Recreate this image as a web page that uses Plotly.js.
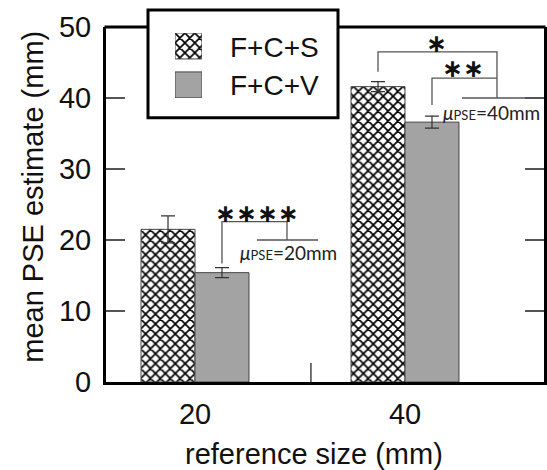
<!DOCTYPE html>
<html>
<head>
<meta charset="utf-8">
<script src="https://cdn.plot.ly/plotly-3.0.1.min.js"></script>
<style>html,body{margin:0;padding:0;background:#fff;}#chart{width:547px;height:470px;}</style>
</head>
<body>
<div id="chart"></div>
<script>
// ---- data ----
var categories = [0, 1];                 // positions of reference sizes
var categoryLabels = ['20', '40'];       // reference size (mm)
var seriesNames = ['F+C+S', 'F+C+V'];
var fcsMean = [21.5, 41.6];
var fcsErr  = [1.9, 0.7];
var fcvMean = [15.4, 36.6];
var fcvErr  = [0.7, 0.85];
var yTicks = [0, 10, 20, 30, 40, 50];
var sigLabels = ['∗∗∗∗', '∗', '∗∗'];
var pseLabels = ['20mm', '40mm'];
var pseValues = [20, 40];

// ---- geometry helpers (pixels -> paper) ----
var L = 106, R = 3, T = 27, B = 470 - 382.5;
var PW = 547 - L - R, PH = 470 - T - B;
function px(x) { return (x - L) / PW; }
function py(y) { return (470 - B - y) / PH; }

var gray = '#a3a3a3';
var lineCol = '#555';
var hatch = { shape: 'x', size: 7, solidity: 0.42, fgcolor: '#000', bgcolor: 'white' };

var traces = [
  {
    type: 'bar', name: seriesNames[0], x: categories, y: fcsMean,
    marker: { color: 'white', line: { color: '#444', width: 1 }, pattern: hatch },
    error_y: { type: 'data', array: fcsErr, visible: true, color: '#333', thickness: 1.2, width: 7 },
    showlegend: false, hoverinfo: 'skip'
  },
  {
    type: 'bar', name: seriesNames[1], x: categories, y: fcvMean,
    marker: { color: gray, line: { color: '#444', width: 1 } },
    error_y: { type: 'data', array: fcvErr, visible: true, color: '#333', thickness: 1.2, width: 7 },
    showlegend: false, hoverinfo: 'skip'
  },
  // legend swatches (drawn on a small overlay axis inside the legend box)
  {
    type: 'bar', orientation: 'h', x: [1], y: [1], base: 0, width: 0.667, offset: -0.3335,
    xaxis: 'x2', yaxis: 'y2',
    marker: { color: 'white', line: { color: '#444', width: 1 }, pattern: hatch },
    showlegend: false, hoverinfo: 'skip'
  },
  {
    type: 'bar', orientation: 'h', x: [1], y: [0], base: 0, width: 0.667, offset: -0.3335,
    xaxis: 'x2', yaxis: 'y2',
    marker: { color: gray, line: { color: '#444', width: 1 } },
    showlegend: false, hoverinfo: 'skip'
  }
];

var halfBar = 0.257 / 2;
var shapes = [
  // legend frame
  { type: 'rect', xref: 'paper', yref: 'paper', x0: px(148), x1: px(338), y0: py(118), y1: py(10),
    fillcolor: 'white', line: { color: '#000', width: 3 }, layer: 'below' },
  // top border (interrupted by the legend)
  { type: 'line', xref: 'paper', yref: 'paper', x0: px(104.5), x1: px(148), y0: 1, y1: 1,
    line: { color: '#000', width: 3 }, layer: 'above' },
  { type: 'line', xref: 'paper', yref: 'paper', x0: px(338), x1: px(545.5), y0: 1, y1: 1,
    line: { color: '#000', width: 3 }, layer: 'above' },
  // divider tick on x axis
  { type: 'line', xref: 'x', yref: 'y', x0: 0.552, x1: 0.552, y0: 0, y1: 2.67,
    line: { color: '#444', width: 1.5 }, layer: 'above' },
  // 20 mm bracket
  { type: 'path', xref: 'x', yref: 'y',
    path: 'M' + halfBar + ',16.7 L' + halfBar + ',22.6 L0.438,22.6 L0.438,' + pseValues[0],
    line: { color: lineCol, width: 1.3 } },
  { type: 'line', xref: 'x', yref: 'y', x0: 0.295, x1: 0.586, y0: pseValues[0], y1: pseValues[0],
    line: { color: lineCol, width: 1.3 } },
  // 40 mm brackets
  { type: 'path', xref: 'x', yref: 'y',
    path: 'M' + (1 - halfBar) + ',43.7 L' + (1 - halfBar) + ',46.5 L1.438,46.5 L1.438,' + pseValues[1],
    line: { color: lineCol, width: 1.3 } },
  { type: 'path', xref: 'x', yref: 'y',
    path: 'M' + (1 + halfBar) + ',39.0 L' + (1 + halfBar) + ',42.8 L1.438,42.8',
    line: { color: lineCol, width: 1.3 } },
  { type: 'line', xref: 'x', yref: 'y', x0: 1.271, x1: 1.662, y0: pseValues[1], y1: pseValues[1],
    line: { color: lineCol, width: 1.3 } }
];

var txtFont = { family: 'Liberation Sans, Arial, sans-serif', size: 28, color: '#111' };
var tickFont = { family: 'Liberation Sans, Arial, sans-serif', size: 29, color: '#111' };
var titleFont = { family: 'Liberation Sans, Arial, sans-serif', size: 29, color: '#111' };
var starFont = { family: 'DejaVu Sans', size: 25, color: '#111', weight: 'bold' };
var muFont = { family: 'Lato, Open Sans, sans-serif', size: 19, color: '#222' };
function muText(v) { return '<i>μ</i><span style="font-size:13px">PSE</span>=' + v; }

var annotations = [
  { xref: 'paper', yref: 'paper', x: px(228), y: py(47.5), xanchor: 'left', yanchor: 'middle',
    text: seriesNames[0], showarrow: false, font: txtFont },
  { xref: 'paper', yref: 'paper', x: px(228), y: py(86), xanchor: 'left', yanchor: 'middle',
    text: seriesNames[1], showarrow: false, font: txtFont },
  { xref: 'x', yref: 'y', x: 0.295, y: 23.8, text: sigLabels[0], showarrow: false, font: starFont, yanchor: 'middle' },
  { xref: 'x', yref: 'y', x: 1.152, y: 47.7, text: sigLabels[1], showarrow: false, font: starFont, yanchor: 'middle' },
  { xref: 'x', yref: 'y', x: 1.276, y: 44.2, text: sigLabels[2], showarrow: false, font: starFont, yanchor: 'middle' },
  { xref: 'x', yref: 'y', x: 0.445, y: 18.2, text: muText(pseLabels[0]), showarrow: false, font: muFont, yanchor: 'middle' },
  { xref: 'x', yref: 'y', x: 1.41, y: 38.0, text: muText(pseLabels[1]), showarrow: false, font: muFont, yanchor: 'middle' },
  // axis titles
  { xref: 'paper', yref: 'paper', x: px(33), y: py(197), textangle: -90, text: 'mean PSE estimate (mm)',
    showarrow: false, font: titleFont, xanchor: 'center', yanchor: 'middle' },
  { xref: 'paper', yref: 'paper', x: px(314), y: py(455), text: 'reference size (mm)',
    showarrow: false, font: titleFont, xanchor: 'center', yanchor: 'middle' }
];

var layout = {
  width: 547, height: 470,
  margin: { l: L, r: R, t: T, b: B, pad: 0 },
  paper_bgcolor: 'white', plot_bgcolor: 'white',
  barmode: 'group', bargap: 0.486, bargroupgap: 0,
  showlegend: false,
  xaxis: {
    range: [-0.4238, 1.6619], tickvals: categories, ticktext: categoryLabels,
    ticks: '', showgrid: false, zeroline: false,
    showline: true, linewidth: 3, linecolor: '#000', mirror: false,
    tickfont: tickFont, ticklabelstandoff: 4, fixedrange: true
  },
  yaxis: {
    range: [0, 50], tickvals: yTicks, ticks: 'inside', ticklen: 19, tickwidth: 1.5, tickcolor: '#555',
    showgrid: false, zeroline: false, showline: true, linewidth: 3, linecolor: '#000', mirror: 'ticks',
    tickfont: tickFont, ticklabelstandoff: 6, fixedrange: true
  },
  xaxis2: { domain: [px(175), px(202)], anchor: 'y2', range: [0, 1], visible: false, fixedrange: true },
  yaxis2: { domain: [py(98), py(33)], anchor: 'x2', range: [-0.3333, 1.3333], visible: false, fixedrange: true },
  shapes: shapes,
  annotations: annotations
};

Plotly.newPlot('chart', traces, layout, { staticPlot: true, displayModeBar: false });
</script>
</body>
</html>
